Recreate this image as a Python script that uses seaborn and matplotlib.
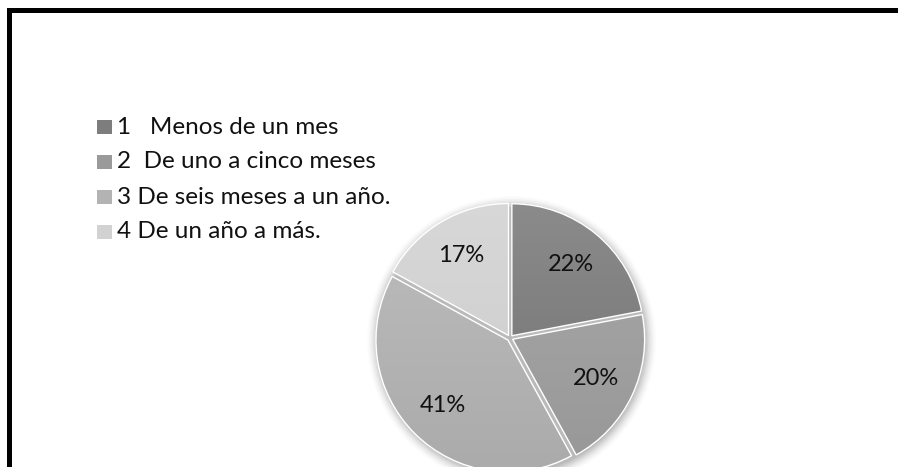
import numpy as np
import matplotlib
matplotlib.use("Agg")
import matplotlib.pyplot as plt
import matplotlib.colors as mcolors
from matplotlib.patches import Rectangle, Circle
import seaborn as sns

# Tiempo en el puesto: categorías y porcentajes
categorias = ["1   Menos de un mes", "2  De uno a cinco meses",
              "3 De seis meses a un año.", "4 De un año a más."]
porcentajes = [22, 20, 41, 17]
colores_sup = ["#8c8c8c", "#a9a9a9", "#bebebe", "#d8d8d8"]
colores_inf = ["#707070", "#979797", "#aaaaaa", "#cbcbcb"]
colores_leyenda = ["#7d7d7d", "#9a9a9a", "#b3b3b3", "#d2d2d2"]

sns.set_theme(style="white")
plt.rcParams["font.family"] = ["Lato", "DejaVu Sans"]

W, H = 898, 467
fig = plt.figure(figsize=(W / 100, H / 100), dpi=100)
fig.patch.set_facecolor("white")

# pie placement in pixels
cx, cy, R = 510, H - 338, 132
lim = 1.12
side = 2 * lim * R
ax = fig.add_axes([(cx - side / 2) / W, (cy - side / 2) / H, side / W, side / H])
ax.set_xlim(-lim, lim)
ax.set_ylim(-lim, lim)
ax.set_aspect("equal")
ax.axis("off")

# soft shadow behind the pie
for i, a in enumerate(np.linspace(0.06, 0.012, 8)):
    ax.add_patch(Circle((0.012, -0.02), 1.0 + 0.012 * (i + 1), color="black",
                        alpha=a, lw=0, zorder=0))

wedges, texts, autotexts = ax.pie(
    porcentajes, startangle=90, counterclock=False,
    explode=[0.022] * 4, radius=1.0,
    colors=colores_sup, autopct="%1.0f%%", pctdistance=0.7,
    wedgeprops=dict(edgecolor="white", linewidth=1.0),
    textprops=dict(fontsize=17, color="#111111"),
)

# vertical gradient fill inside each wedge
for w, c1, c2 in zip(wedges, colores_sup, colores_inf):
    w.set_facecolor("none")
    cmap = mcolors.LinearSegmentedColormap.from_list("g", [c2, c1])
    grad = np.linspace(0, 1, 256).reshape(-1, 1)
    im = ax.imshow(grad, cmap=cmap, origin="lower", extent=[-1.1, 1.1, -1.1, 1.1],
                   aspect="auto", zorder=1)
    im.set_clip_path(w)
    w.set_zorder(2)
for t in autotexts:
    t.set_zorder(5)
ax.set_xlim(-lim, lim)
ax.set_ylim(-lim, lim)

# legend drawn in figure pixels
rows_y = [127, 162, 197, 232]
for lab, col, y in zip(categorias, colores_leyenda, rows_y):
    fig.patches.append(Rectangle((97 / W, (H - y - 7) / H), 15 / W, 14 / H,
                                 transform=fig.transFigure, facecolor=col,
                                 edgecolor="none"))
    fig.text(117 / W, (H - y) / H, lab, fontsize=17.5, color="#111111",
             va="center", ha="left")

# frame: top and left black border
fig.patches.append(Rectangle((7 / W, 0), 5 / W, (H - 8) / H,
                             transform=fig.transFigure, facecolor="black",
                             edgecolor="none", zorder=10))
fig.patches.append(Rectangle((7 / W, (H - 13) / H), (W - 7) / W, 5 / H,
                             transform=fig.transFigure, facecolor="black",
                             edgecolor="none", zorder=10))

fig.savefig("out.png", dpi=100)
